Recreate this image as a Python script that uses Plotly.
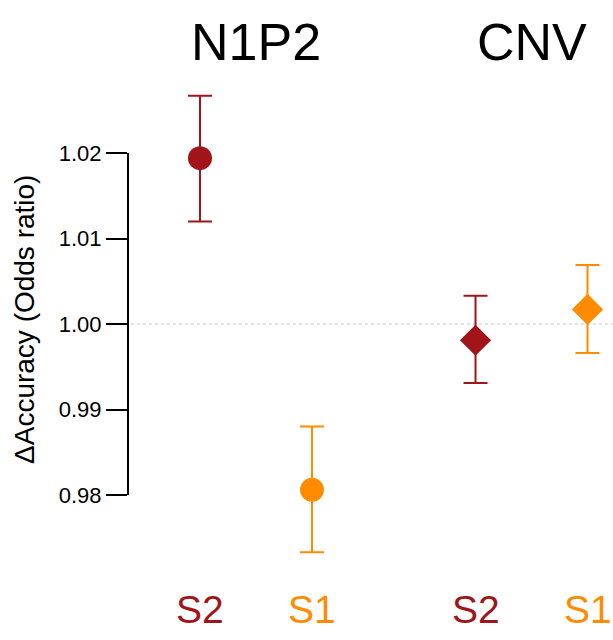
import plotly.graph_objects as go

# ---- data ----
groups = ["N1P2", "CNV"]
conditions = ["S2", "S1", "S2", "S1"]
x_pos = [1, 2, 3.46, 4.46]
odds = [1.0194, 0.9806, 0.9981, 1.0017]
ci_low = [1.0120, 0.9733, 0.9931, 0.9966]
ci_high = [1.0267, 0.9880, 1.0033, 1.0069]
symbols = ["circle", "circle", "diamond", "diamond"]
tick_vals = [0.98, 0.99, 1.00, 1.01, 1.02]
tick_text = ["0.98", "0.99", "1.00", "1.01", "1.02"]

RED = "#A11419"
ORANGE = "#FF8C00"
colors = {"S2": RED, "S1": ORANGE}
FONT = "Liberation Sans, Arial, Helvetica, sans-serif"

fig = go.Figure()

for i in range(len(x_pos)):
    c = colors[conditions[i]]
    fig.add_trace(go.Scatter(
        x=[x_pos[i]], y=[odds[i]],
        mode="markers",
        marker=dict(symbol=symbols[i], size=24, color=c, line=dict(width=0)),
        error_y=dict(type="data", symmetric=False,
                     array=[ci_high[i] - odds[i]],
                     arrayminus=[odds[i] - ci_low[i]],
                     color=c, thickness=2, width=12),
        showlegend=False, hoverinfo="skip",
    ))

# reference line at 1.00
fig.add_shape(type="line", xref="paper", x0=0.006, x1=1, yref="y", y0=1.0, y1=1.0,
              line=dict(color="#C4C4C4", width=1, dash="dot"), layer="below")
# trimmed y axis line
fig.add_shape(type="line", xref="paper", x0=0, x1=0, yref="y",
              y0=tick_vals[0], y1=tick_vals[-1],
              line=dict(color="black", width=2))

annotations = []
# group titles
for g, (a, b) in zip(groups, [(0, 1), (2, 3)]):
    annotations.append(dict(x=(x_pos[a] + x_pos[b]) / 2, xref="x", y=1.0673, yref="paper",
                            text=g, showarrow=False, xanchor="center", yanchor="middle",
                            font=dict(family=FONT, size=52, color="black")))
# condition labels
for xp, cnd in zip(x_pos, conditions):
    annotations.append(dict(x=xp, xref="x", y=-0.0908, yref="paper", text=cnd,
                            showarrow=False, xanchor="center", yanchor="middle",
                            font=dict(family=FONT, size=39, color=colors[cnd])))
# y axis title
annotations.append(dict(x=(24 - 128) / 485, xref="paper", y=0.5, yref="paper",
                        text="ΔAccuracy (Odds ratio)", textangle=-90, showarrow=False,
                        xanchor="center", yanchor="middle",
                        font=dict(family=FONT, size=28, color="black")))

fig.update_layout(
    width=613, height=640,
    margin=dict(l=128, r=0, t=75, b=75),
    paper_bgcolor="white", plot_bgcolor="white",
    annotations=annotations,
    xaxis=dict(range=[1 - 72 / 112, 1 - 72 / 112 + 485 / 112], visible=False,
               showgrid=False, zeroline=False),
    yaxis=dict(range=[1.0 - 241 / 8550, 1.0 + 249 / 8550], tickvals=tick_vals,
               ticktext=tick_text, ticks="outside", ticklen=21, tickwidth=2,
               tickcolor="black", showline=False, showgrid=False, zeroline=False,
               tickfont=dict(family=FONT, size=22, color="black")),
    font=dict(family=FONT),
)

fig.write_html("out.html", config={"displayModeBar": False},
               post_script="document.body.style.margin='0';document.body.style.overflow='hidden';")
